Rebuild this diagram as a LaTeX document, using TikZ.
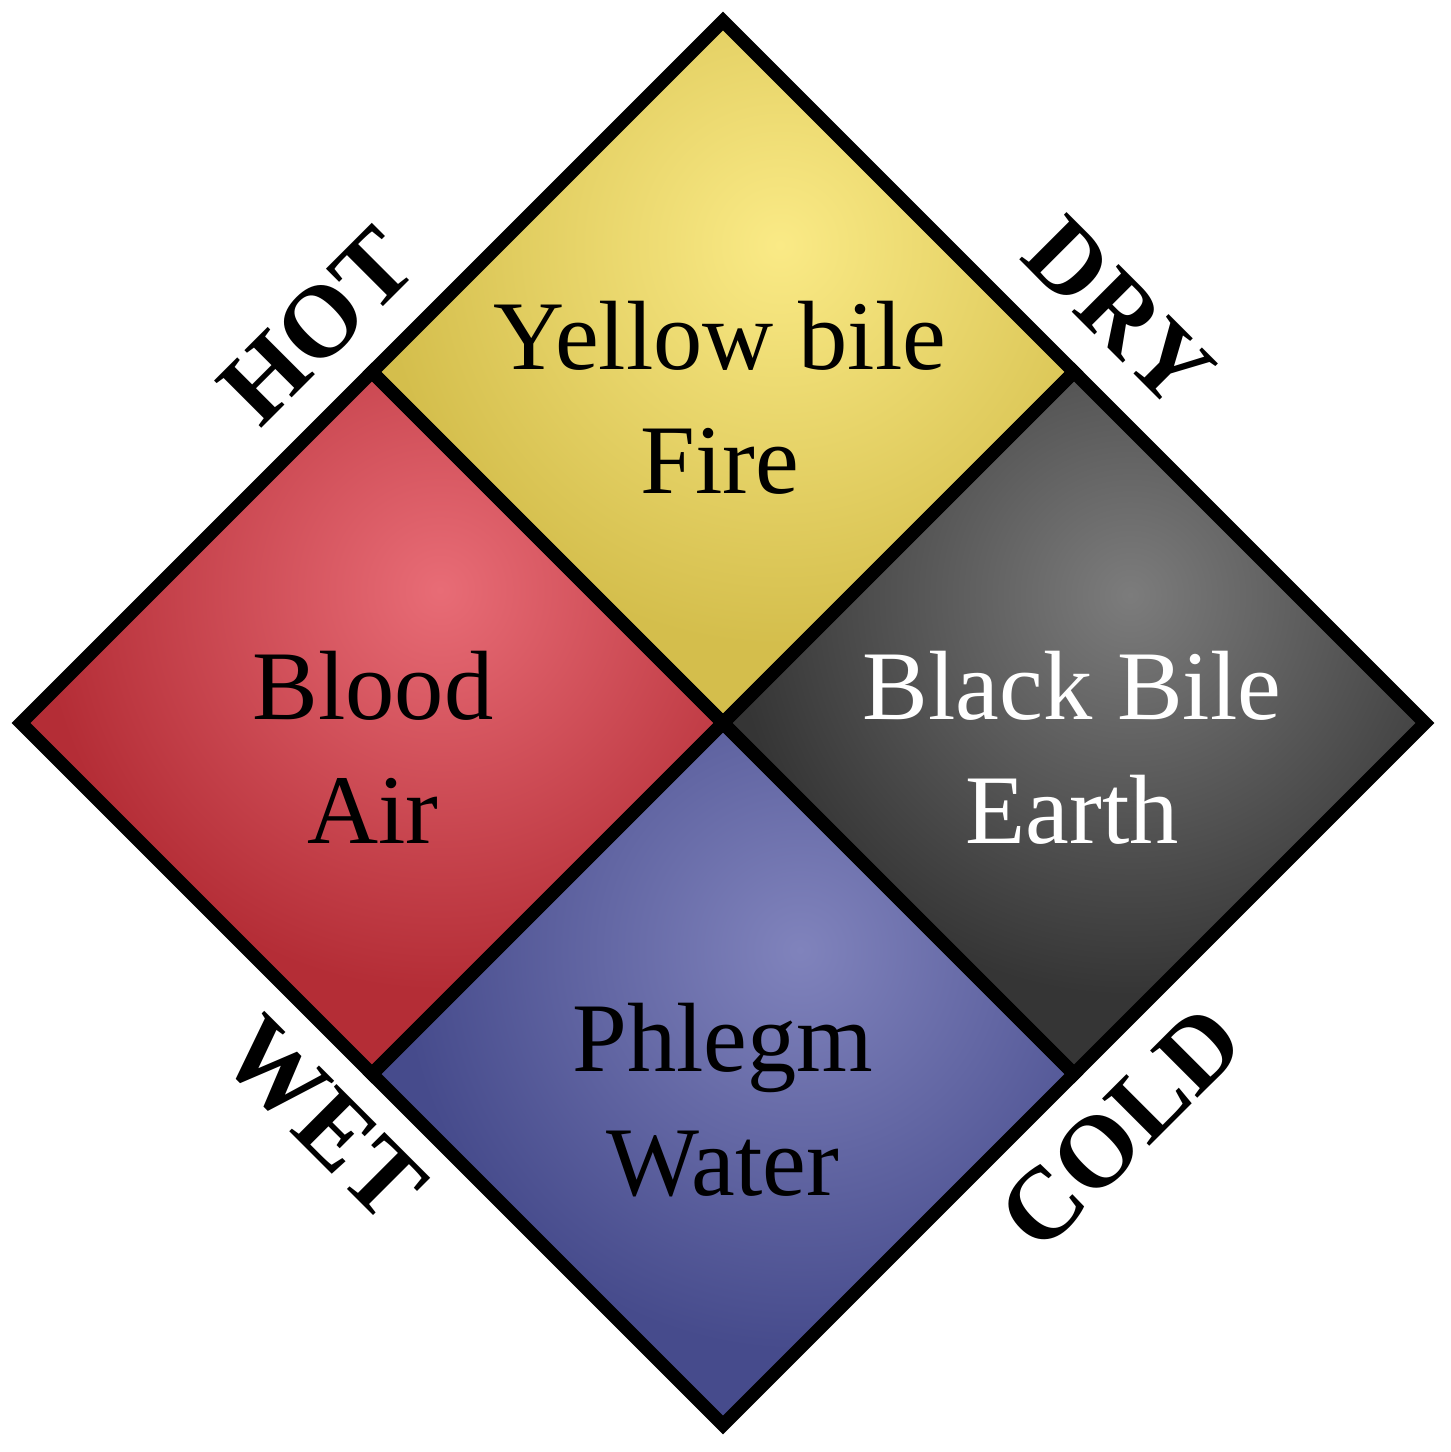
\documentclass[tikz,border=0pt]{standalone}
\usepackage{fontspec}
\setmainfont{Liberation Serif}
\definecolor{yhi}{RGB}{250,234,134}
\definecolor{ybase}{RGB}{212,190,76}
\definecolor{rhi}{RGB}{232,108,118}
\definecolor{rbase}{RGB}{180,45,54}
\definecolor{khi}{RGB}{124,124,124}
\definecolor{kbase}{RGB}{53,53,53}
\definecolor{bhi}{RGB}{128,131,188}
\definecolor{bbase}{RGB}{70,75,140}
\begin{document}
\begin{tikzpicture}[x=0.01cm,y=-0.01cm,
  quad/.style={draw=black, line width=3.8pt, line join=miter},
  humour/.style={font=\fontsize{28}{35}\selectfont, align=center, anchor=base, inner sep=0pt},
  quality/.style={font=\fontsize{29}{34}\selectfont\bfseries, anchor=center, inner sep=0pt}]
\useasboundingbox (0,0) rectangle (1450,1452);
\coordinate (T) at (723,21);
\coordinate (L) at (21,723);
\coordinate (R) at (1425,723);
\coordinate (B) at (723,1425);
\coordinate (C) at (723,723);
\coordinate (TL) at (372,372);
\coordinate (TR) at (1074,372);
\coordinate (BL) at (372,1074);
\coordinate (BR) at (1074,1074);
% yellow
\fill[ybase] (T) -- (TR) -- (C) -- (TL) -- cycle;
\begin{scope}
\clip (T) -- (TR) -- (C) -- (TL) -- cycle;
\shade[inner color=yhi, outer color=ybase] (780,245) circle (4.0cm);
\end{scope}
% red
\fill[rbase] (TL) -- (C) -- (BL) -- (L) -- cycle;
\begin{scope}
\clip (TL) -- (C) -- (BL) -- (L) -- cycle;
\shade[inner color=rhi, outer color=rbase] (440,590) circle (4.0cm);
\end{scope}
% black
\fill[kbase] (TR) -- (R) -- (BR) -- (C) -- cycle;
\begin{scope}
\clip (TR) -- (R) -- (BR) -- (C) -- cycle;
\shade[inner color=khi, outer color=kbase] (1130,595) circle (4.0cm);
\end{scope}
% blue
\fill[bbase] (C) -- (BR) -- (B) -- (BL) -- cycle;
\begin{scope}
\clip (C) -- (BR) -- (B) -- (BL) -- cycle;
\shade[inner color=bhi, outer color=bbase] (800,950) circle (4.0cm);
\end{scope}
\draw[quad] (T) -- (TR) -- (C) -- (TL) -- cycle;
\draw[quad] (TL) -- (C) -- (BL) -- (L) -- cycle;
\draw[quad] (TR) -- (R) -- (BR) -- (C) -- cycle;
\draw[quad] (C) -- (BR) -- (B) -- (BL) -- cycle;
\node[humour] (yellow) at (720,493) {Yellow bile\\Fire};
\node[humour] (blood) at (373,843) {Blood\\Air};
\node[humour, text=white] (black) at (1072,843) {Black Bile\\Earth};
\node[humour] (phlegm) at (723,1195) {Phlegm\\Water};
\node[quality, rotate=45] (hot) at (317,326) {HOT};
\node[quality, rotate=-45] (dry) at (1119,312) {DRY};
\node[quality, rotate=-45] (wet) at (324,1119) {WET};
\node[quality, rotate=45] (cold) at (1121,1128) {COLD};
\end{tikzpicture}
\end{document}
